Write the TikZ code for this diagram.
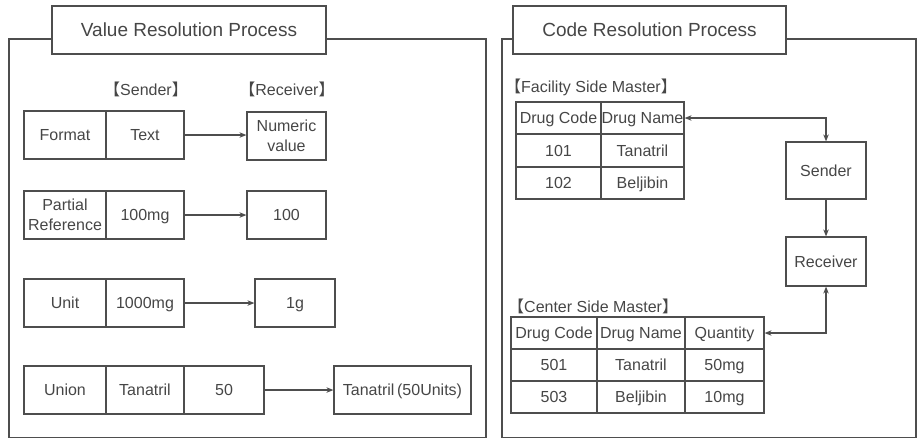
\documentclass[tikz,border=0pt]{standalone}
\usepackage{fontspec}
\setmainfont{Liberation Sans}
\newfontfamily\cjk{Noto Sans CJK JP}
\usetikzlibrary{arrows.meta}
\definecolor{linecol}{RGB}{78,78,78}
\definecolor{textcol}{RGB}{70,70,70}
\tikzset{
  cellbase/.style={draw=linecol, line width=1.2pt, inner sep=0pt, text=textcol, align=center,
    font=\fontsize{16}{19.5}\selectfont},
  cell/.style={cellbase, text height=11.5pt, text depth=0pt},
  cellm/.style={cellbase},
  titlebox/.style={draw=linecol, line width=1.2pt, inner sep=0pt, text=textcol,
    font=\fontsize{19}{22}\selectfont, minimum height=48pt, text height=13.6pt, text depth=0pt},
  lbl/.style={inner sep=0pt, text=textcol, font=\fontsize{16}{19}\selectfont},
  frame/.style={draw=linecol, line width=1.1pt},
  conn/.style={draw=linecol, line width=1.2pt},
  tip/.tip={Stealth[length=7pt,width=5.5pt]},
}
\newcommand{\lb}{{\cjk 【}}
\newcommand{\rb}{{\cjk 】}}
\begin{document}
\begin{tikzpicture}[x=1pt,y=-1pt]
\useasboundingbox (0,0) rectangle (924,440);

% ---------- Left panel ----------
\node[titlebox, minimum width=274pt] (ltitle) at (189,30) {Value Resolution Process};
\draw[frame] (ltitle.west |- 0,39) -- (9,39) -- (9,437.5) -- (486,437.5) -- (486,39) -- (ltitle.east |- 0,39);

\node[lbl] (lsend) at (146,89) {\lb Sender\rb};
\node[lbl] (lrecv) at (287,89) {\lb Receiver\rb};

% row 1
\node[cell, minimum width=82pt, minimum height=48pt] (f1) at (65,135) {Format};
\node[cell, minimum width=78pt, minimum height=48pt] (f2) at (145,135) {Text};
\node[cellm, minimum width=79pt, minimum height=48pt] (f3) at (286.5,136) {Numeric\\value};
\draw[conn,-tip] (f2.east) -- (f3.west |- f2.east);

% row 2
\node[cellm, minimum width=82pt, minimum height=48pt] (p1) at (65,215) {Partial\\Reference};
\node[cell, minimum width=78pt, minimum height=48pt] (p2) at (145,215) {100mg};
\node[cell, minimum width=79pt, minimum height=48pt] (p3) at (286.5,215) {100};
\draw[conn,-tip] (p2.east) -- (p3.west);

% row 3
\node[cell, minimum width=82pt, minimum height=48pt] (u1) at (65,303) {Unit};
\node[cell, minimum width=78pt, minimum height=48pt] (u2) at (145,303) {1000mg};
\node[cell, minimum width=80pt, minimum height=48pt] (u3) at (295,303) {1g};
\draw[conn,-tip] (u2.east) -- (u3.west);

% row 4
\node[cell, minimum width=82pt, minimum height=48pt] (n1) at (65,390) {Union};
\node[cell, minimum width=78pt, minimum height=48pt] (n2) at (145,390) {Tanatril};
\node[cell, minimum width=80pt, minimum height=48pt] (n3) at (224,390) {50};
\node[cell, minimum width=137pt, minimum height=48pt] (n4) at (402.5,390) {Tanatril\,(50Units)};
\draw[conn,-tip] (n3.east) -- (n4.west);

% ---------- Right panel ----------
\node[titlebox, minimum width=273pt] (rtitle) at (649.5,30) {Code Resolution Process};
\draw[frame] (rtitle.west |- 0,39) -- (502,39) -- (502,437.5) -- (916,437.5) -- (916,39) -- (rtitle.east |- 0,39);

\node[lbl, anchor=west] (fsm) at (505,87) {\lb Facility Side Master\rb};

% table 1
\node[cell, minimum width=85pt, minimum height=32pt] (a11) at (558.5,118) {Drug Code};
\node[cell, minimum width=83pt, minimum height=32pt] (a12) at (642.5,118) {Drug Name};
\node[cell, minimum width=85pt, minimum height=33pt] (a21) at (558.5,150.5) {101};
\node[cell, minimum width=83pt, minimum height=33pt] (a22) at (642.5,150.5) {Tanatril};
\node[cell, minimum width=85pt, minimum height=32pt] (a31) at (558.5,183) {102};
\node[cell, minimum width=83pt, minimum height=32pt] (a32) at (642.5,183) {Beljibin};

% sender / receiver
\node[cell, minimum width=80pt, minimum height=57pt] (snd) at (826,170.5) {Sender};
\node[cell, minimum width=80pt, minimum height=49pt] (rcv) at (826,261.5) {Receiver};

\node[lbl, anchor=west] (csm) at (508,306) {\lb Center Side Master\rb};

% table 2
\node[cell, minimum width=86pt, minimum height=32pt] (b11) at (554,333) {Drug Code};
\node[cell, minimum width=88pt, minimum height=32pt] (b12) at (641,333) {Drug Name};
\node[cell, minimum width=79pt, minimum height=32pt] (b13) at (724.5,333) {Quantity};
\node[cell, minimum width=86pt, minimum height=32pt] (b21) at (554,365) {501};
\node[cell, minimum width=88pt, minimum height=32pt] (b22) at (641,365) {Tanatril};
\node[cell, minimum width=79pt, minimum height=32pt] (b23) at (724.5,365) {50mg};
\node[cell, minimum width=86pt, minimum height=32pt] (b31) at (554,397) {503};
\node[cell, minimum width=88pt, minimum height=32pt] (b32) at (641,397) {Beljibin};
\node[cell, minimum width=79pt, minimum height=32pt] (b33) at (724.5,397) {10mg};

% connectors
\draw[conn,tip-tip] (a12.east) -| (snd.north);
\draw[conn,-tip] (snd.south) -- (rcv.north);
\draw[conn,tip-tip] (rcv.south) |- (b13.east);
\end{tikzpicture}
\end{document}
